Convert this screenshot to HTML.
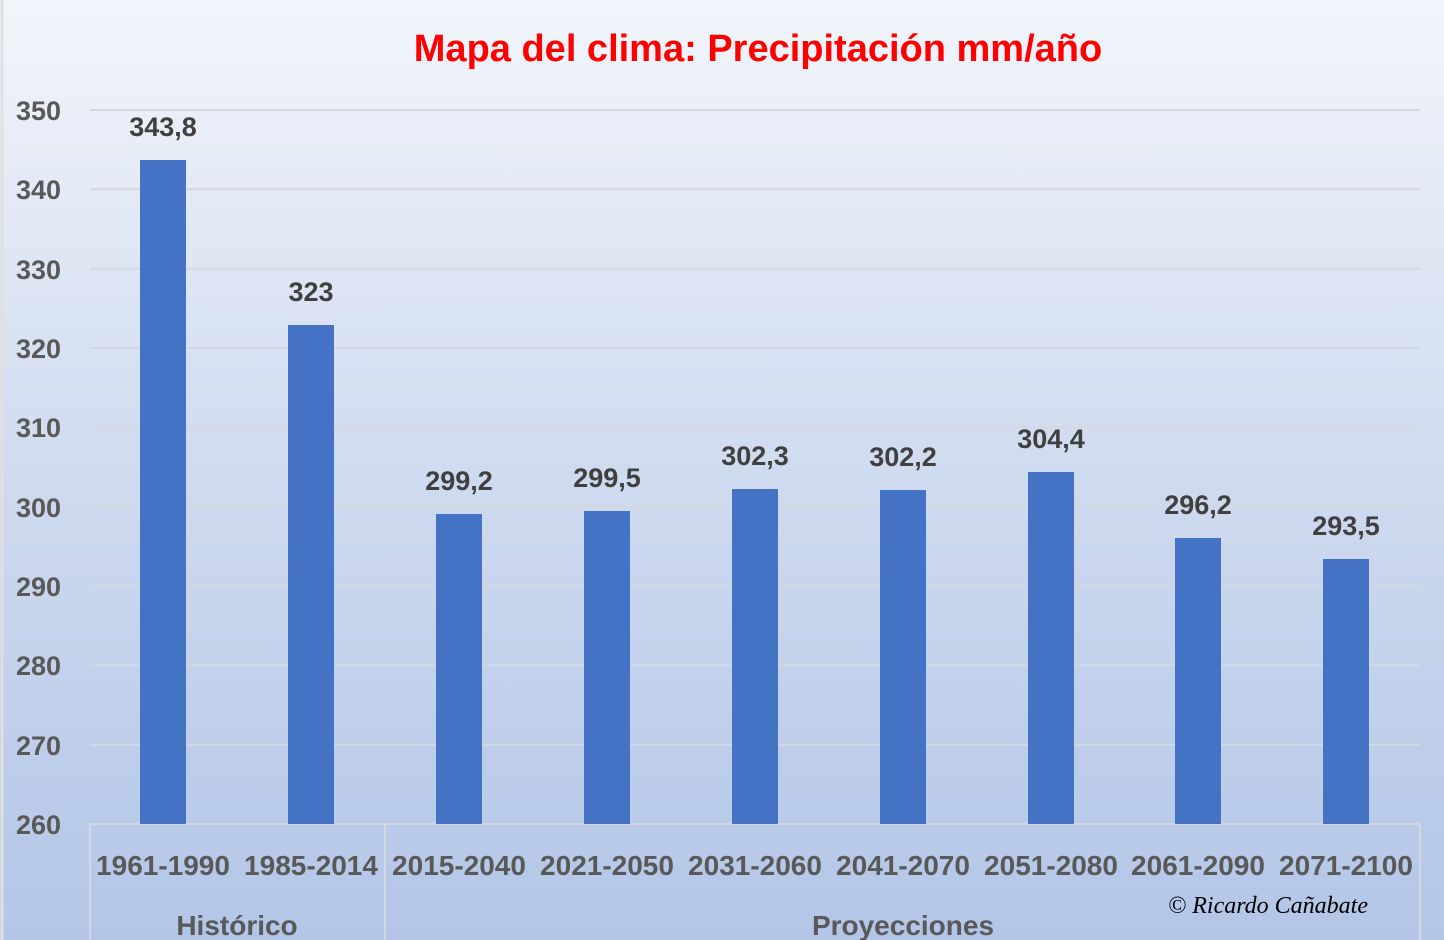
<!DOCTYPE html>
<html><head><meta charset="utf-8"><style>
body{margin:0;width:1444px;height:940px;overflow:hidden}
svg{display:block}
text{font-family:"Liberation Sans",sans-serif;font-weight:bold}
</style></head><body>
<svg width="1444" height="940" xmlns="http://www.w3.org/2000/svg">
<defs><linearGradient id="g" x1="0" y1="0" x2="0" y2="1">
<stop offset="0" stop-color="#f2f5fb"/><stop offset="0.5" stop-color="#cfdbef"/><stop offset="1" stop-color="#b3c6e7"/></linearGradient></defs>
<rect width="1444" height="940" fill="url(#g)"/>
<line x1="2" y1="0" x2="2" y2="940" stroke="#e0e0e0" stroke-width="3"/>
<text x="758" y="61" font-size="38" fill="#ff0000" text-anchor="middle">Mapa del clima: Precipitación mm/año</text>
<g stroke="#d4d8e0" stroke-width="2">
<line x1="90" x2="1420" y1="110" y2="110"/><line x1="90" x2="1420" y1="189.3" y2="189.3"/>
<line x1="90" x2="1420" y1="268.7" y2="268.7"/><line x1="90" x2="1420" y1="348" y2="348"/>
<line x1="90" x2="1420" y1="427.3" y2="427.3"/><line x1="90" x2="1420" y1="506.7" y2="506.7"/>
<line x1="90" x2="1420" y1="586" y2="586"/><line x1="90" x2="1420" y1="665.3" y2="665.3"/>
<line x1="90" x2="1420" y1="744.7" y2="744.7"/>
<line x1="90" x2="1420" y1="824" y2="824"/>
<line x1="90" x2="90" y1="824" y2="940"/><line x1="385" x2="385" y1="824" y2="940"/><line x1="1420" x2="1420" y1="824" y2="940"/>
</g>
<g font-size="27" fill="#595959" text-anchor="end">
<text x="61" y="120">350</text><text x="61" y="199">340</text><text x="61" y="279">330</text>
<text x="61" y="358">320</text><text x="61" y="437">310</text><text x="61" y="517">300</text>
<text x="61" y="596">290</text><text x="61" y="675">280</text><text x="61" y="755">270</text><text x="61" y="834">260</text>
</g>
<g fill="#4472c4">
<rect x="140" y="160" width="46" height="664"/>
<rect x="288" y="325" width="46" height="499"/>
<rect x="436" y="514" width="46" height="310"/>
<rect x="584" y="511" width="46" height="313"/>
<rect x="732" y="489" width="46" height="335"/>
<rect x="880" y="490" width="46" height="334"/>
<rect x="1028" y="472" width="46" height="352"/>
<rect x="1175" y="538" width="46" height="286"/>
<rect x="1323" y="559" width="46" height="265"/>
</g>
<g font-size="27" fill="#404040" text-anchor="middle">
<text x="163" y="136">343,8</text><text x="311" y="301">323</text><text x="459" y="490">299,2</text>
<text x="607" y="487">299,5</text><text x="755" y="465">302,3</text><text x="903" y="466">302,2</text>
<text x="1051" y="448">304,4</text><text x="1198" y="514">296,2</text><text x="1346" y="535">293,5</text>
</g>
<g font-size="28" fill="#595959" text-anchor="middle">
<text x="163" y="875">1961-1990</text><text x="311" y="875">1985-2014</text><text x="459" y="875">2015-2040</text>
<text x="607" y="875">2021-2050</text><text x="755" y="875">2031-2060</text><text x="903" y="875">2041-2070</text>
<text x="1051" y="875">2051-2080</text><text x="1198" y="875">2061-2090</text><text x="1346" y="875">2071-2100</text>
<text x="237" y="935">Histórico</text><text x="903" y="935">Proyecciones</text>
</g>
<text x="1268" y="913" font-size="24" fill="#000" text-anchor="middle" style="font-family:'Liberation Serif',serif;font-style:italic;font-weight:normal">© Ricardo Cañabate</text>
</svg>
</body></html>
